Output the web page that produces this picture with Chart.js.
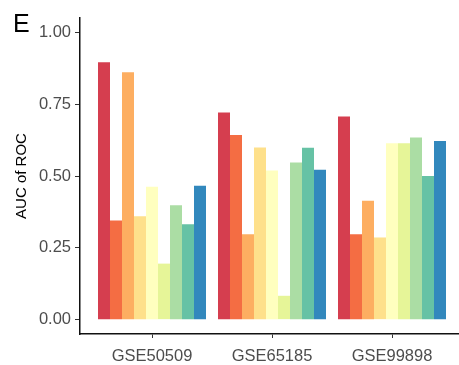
<!DOCTYPE html>
<html>
<head>
<meta charset="utf-8">
<script src="https://cdn.jsdelivr.net/npm/chart.js@4/dist/chart.umd.min.js"></script>
<style>
  html, body { margin: 0; padding: 0; background: #fff; }
  #wrap { width: 459px; height: 365px; }
</style>
</head>
<body>
<div id="wrap"><canvas id="aucChart" width="459" height="365"></canvas></div>
<script>
/* ---------------------------- Data --------------------------------------------- */

const datasetsNames = ['GSE50509', 'GSE65185', 'GSE99898']
const yTicks = [0, 0.25, 0.5, 0.75, 1]

// one series per bar colour, values per dataset
const series1 = [0.896, 0.721, 0.707]
const series2 = [0.345, 0.643, 0.297]
const series3 = [0.861, 0.297, 0.414]
const series4 = [0.360, 0.599, 0.286]
const series5 = [0.463, 0.519, 0.614]
const series6 = [0.195, 0.083, 0.614]
const series7 = [0.398, 0.547, 0.634]
const series8 = [0.332, 0.598, 0.500]
const series9 = [0.466, 0.522, 0.622]

const allSeries = [series1, series2, series3, series4, series5, series6, series7, series8, series9]
const palette = ['#D53E4F', '#F46D43', '#FDAE61', '#FEE08B', '#FFFFBF', '#E6F598', '#ABDDA4', '#66C2A5', '#3288BD']

/* ---------------------------- Chart --------------------------------------------- */

const panelLetter = {
    id: 'panelLetter',
    afterDraw(chart) {
        const ctx = chart.ctx
        ctx.save()
        ctx.fillStyle = '#000'
        ctx.font = '25px "Liberation Sans", Arial, sans-serif'
        ctx.textBaseline = 'alphabetic'
        ctx.fillText('E', 13, 32)
        ctx.restore()
    }
}

const data = {
    labels: datasetsNames,
    datasets: allSeries.map((values, i) => ({
        label: 'model ' + (i + 1),
        data: values,
        backgroundColor: palette[i],
        borderWidth: 0,
        categoryPercentage: 0.9,
        barPercentage: 1.0
    }))
}

const config = {
    type: 'bar',
    data: data,
    options: {
        responsive: false,
        animation: false,
        layout: { padding: { top: 18, right: 0, left: 0, bottom: 0 } },
        plugins: {
            legend: { display: false },
            tooltip: { enabled: false }
        },
        scales: {
            x: {
                offset: true,
                grid: { display: true, drawOnChartArea: false, drawTicks: true, tickLength: 4, offset: false, color: '#333' },
                border: { display: true, color: '#111', width: 1.5 },
                ticks: {
                    color: '#4D4D4D',
                    padding: 9,
                    maxRotation: 0,
                    font: { family: '"Liberation Sans", Arial, sans-serif', size: 16.5 }
                },
                afterFit: s => { s.height = 31 },
                // ggplot-like discrete expansion (0.6 on each side)
                afterBuildTicks: s => {
                    s._startValue = -0.6
                    s._valueRange = 379 / 120
                }
            },
            y: {
                min: -0.05,
                max: 1.05,
                grid: { display: true, drawOnChartArea: false, drawTicks: true, tickLength: 5, color: '#333' },
                border: { display: true, color: '#111', width: 1.5 },
                ticks: {
                    color: '#4D4D4D',
                    padding: 4,
                    font: { family: '"Liberation Sans", Arial, sans-serif', size: 16.5 },
                    callback: v => v.toFixed(2)
                },
                afterBuildTicks: s => { s.ticks = yTicks.map(v => ({ value: v })) },
                afterFit: s => { s.width = 80 },
                title: {
                    display: true,
                    text: 'AUC of ROC',
                    color: '#000',
                    padding: { top: 13, bottom: 0 },
                    font: { family: '"Liberation Sans", Arial, sans-serif', size: 15 }
                }
            }
        }
    },
    plugins: [panelLetter]
}

const ctx = document.getElementById('aucChart')
const aucChart = new Chart(ctx, config)
</script>
</body>
</html>
